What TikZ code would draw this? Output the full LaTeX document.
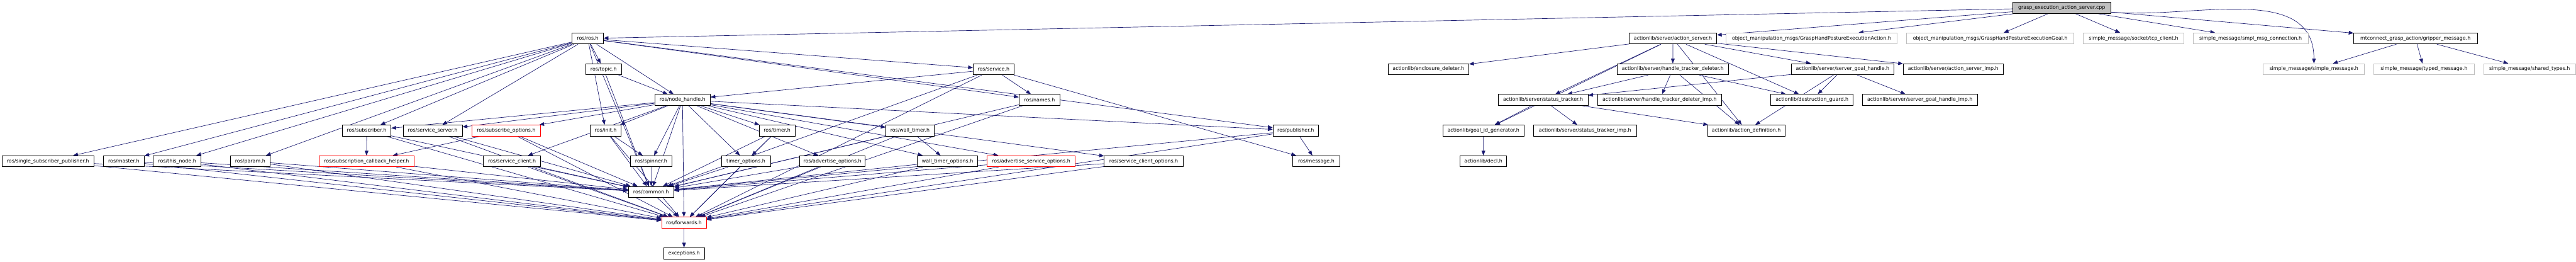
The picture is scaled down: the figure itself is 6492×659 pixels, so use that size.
\documentclass[tikz,border=0pt]{standalone}
\usepackage{fontspec}
\setmainfont{DejaVu Sans}
\usetikzlibrary{arrows.meta,backgrounds}
\definecolor{edgeblue}{RGB}{25,25,112}
\definecolor{docgray}{RGB}{191,191,191}
\begin{document}
\begin{tikzpicture}[x=0.75pt, y=-0.75pt,
  hdr/.style={rectangle, draw=black, line width=0.9pt, fill=white, minimum height=20.85pt, inner sep=0pt, font=\fontsize{9.4}{11}\selectfont},
  wd/.style={minimum width=#1*0.75pt},
  ext/.style={hdr, draw=docgray},
  bad/.style={hdr, draw=red},
  srcfile/.style={hdr, fill=docgray},
  arrow/.style={-{Triangle[length=9pt, width=7pt]}, line width=0.8pt, color=edgeblue}
]
  \useasboundingbox (0,0) rectangle (6492,659);

  % row 0
  \node[srcfile, wd=246.8] (root) at (5195.9,19.8) {grasp\_execution\_action\_server.cpp};

  % row 1
  \node[hdr, wd=78.9] (rosh) at (1481.25,96.8) {ros/ros.h};
  \node[hdr, wd=220.7] (asrv) at (4216.05,96.8) {actionlib/server/action\_server.h};
  \node[ext, wd=432.1] (gaction) at (4565.35,96.8) {object\_manipulation\_msgs/GraspHandPostureExecutionAction.h};
  \node[ext, wd=421.8] (ggoal) at (5015.9,96.8) {object\_manipulation\_msgs/GraspHandPostureExecutionGoal.h};
  \node[ext, wd=253.2] (tcp) at (5377,96.8) {simple\_message/socket/tcp\_client.h};
  \node[ext, wd=289.8] (conn) at (5671.9,96.8) {simple\_message/smpl\_msg\_connection.h};
  \node[hdr, wd=311.1] (grip) at (6087.35,96.8) {mtconnect\_grasp\_action/gripper\_message.h};

  % row 2
  \node[hdr, wd=89.6] (topic) at (1521.2,174.2) {ros/topic.h};
  \node[hdr, wd=102.9] (service) at (2503.95,174.2) {ros/service.h};
  \node[hdr, wd=203.9] (encl) at (3599.85,174.2) {actionlib/enclosure\_deleter.h};
  \node[hdr, wd=281.4] (htd) at (4215.7,174.2) {actionlib/server/handle\_tracker\_deleter.h};
  \node[hdr, wd=258.9] (sgh) at (4643.75,174.2) {actionlib/server/server\_goal\_handle.h};
  \node[hdr, wd=252.2] (asimp) at (4922.5,174.2) {actionlib/server/action\_server\_imp.h};
  \node[ext, wd=255] (smsg) at (5831.5,174.2) {simple\_message/simple\_message.h};
  \node[ext, wd=252.1] (typed) at (6108.95,174.2) {simple\_message/typed\_message.h};
  \node[ext, wd=232] (shared) at (6375,174.2) {simple\_message/shared\_types.h};

  % row 3
  \node[hdr, wd=140] (nh) at (1720,251.4) {ros/node\_handle.h};
  \node[hdr, wd=103.4] (names) at (2619.7,251.4) {ros/names.h};
  \node[hdr, wd=226.3] (st) at (3888.85,251.4) {actionlib/server/status\_tracker.h};
  \node[hdr, wd=313.3] (htdimp) at (4182.35,251.4) {actionlib/server/handle\_tracker\_deleter\_imp.h};
  \node[hdr, wd=207.1] (dguard) at (4566.45,251.4) {actionlib/destruction\_guard.h};
  \node[hdr, wd=291.1] (sghimp) at (4838.45,251.4) {actionlib/server/server\_goal\_handle\_imp.h};

  % row 4
  \node[hdr, wd=122.9] (sub) at (923.95,328.6) {ros/subscriber.h};
  \node[hdr, wd=149] (ssrv) at (1090.5,328.6) {ros/service\_server.h};
  \node[bad, wd=173.5] (subopt) at (1275.75,328.6) {ros/subscribe\_options.h};
  \node[hdr, wd=77.1] (init) at (1526.45,328.6) {ros/init.h};
  \node[hdr, wd=91.1] (timer) at (1958.45,328.6) {ros/timer.h};
  \node[hdr, wd=121.5] (wtimer) at (2293.25,328.6) {ros/wall\_timer.h};
  \node[hdr, wd=115] (pub) at (3265.4,328.6) {ros/publisher.h};
  \node[hdr, wd=205.7] (gidg) at (3738.55,328.6) {actionlib/goal\_id\_generator.h};
  \node[hdr, wd=259] (stimp) at (3994.5,328.6) {actionlib/server/status\_tracker\_imp.h};
  \node[hdr, wd=194.6] (adef) at (4400.9,328.6) {actionlib/action\_definition.h};

  % row 5
  \node[hdr, wd=232.4] (ssp) at (120.8,405.8) {ros/single\_subscriber\_publisher.h};
  \node[hdr, wd=102.5] (master) at (311.95,405.8) {ros/master.h};
  \node[hdr, wd=120] (thisnode) at (446.4,405.8) {ros/this\_node.h};
  \node[hdr, wd=100.3] (param) at (630.55,405.8) {ros/param.h};
  \node[bad, wd=238.9] (sch) at (923.75,405.8) {ros/subscription\_callback\_helper.h};
  \node[hdr, wd=144.3] (sclient) at (1290.35,405.8) {ros/service\_client.h};
  \node[hdr, wd=104.2] (spinner) at (1641.1,405.8) {ros/spinner.h};
  \node[hdr, wd=123.2] (topt) at (1879.8,405.8) {timer\_options.h};
  \node[hdr, wd=164.3] (advopt) at (2097.85,405.8) {ros/advertise\_options.h};
  \node[hdr, wd=152.2] (wtopt) at (2387.9,405.8) {wall\_timer\_options.h};
  \node[bad, wd=223] (asopt) at (2598.5,405.8) {ros/advertise\_service\_options.h};
  \node[hdr, wd=198.9] (scopt) at (2882.35,405.8) {ros/service\_client\_options.h};
  \node[hdr, wd=117.8] (msg) at (3317.1,405.8) {ros/message.h};
  \node[hdr, wd=117.5] (decl) at (3738.35,405.8) {actionlib/decl.h};

  % rows 6 to 8
  \node[hdr, wd=114.6] (common) at (1640.9,483) {ros/common.h};
  \node[bad, wd=112.5] (fwd) at (1723.75,560.2) {ros/forwards.h};
  \node[hdr, wd=102.9] (exc) at (1723.95,637.4) {exceptions.h};

  \begin{scope}[on background layer]
  \fill[white] (0,0) rectangle (6492,659);

  % source file
  \draw[arrow] (root) -- (rosh);
  \draw[arrow] (root) -- (asrv);
  \draw[arrow] (root) -- (gaction);
  \draw[arrow] (root) -- (ggoal);
  \draw[arrow] (root) -- (tcp);
  \draw[arrow] (root) -- (conn);
  \draw[arrow] (root) -- (grip);
  \draw[arrow] (root) to[out=-5, in=90] (smsg);

  % gripper message
  \draw[arrow] (grip) -- (smsg);
  \draw[arrow] (grip) -- (typed);
  \draw[arrow] (grip) -- (shared);

  % ros.h
  \draw[arrow] (rosh) -- (ssp);
  \draw[arrow] (rosh) -- (master);
  \draw[arrow] (rosh) -- (thisnode);
  \draw[arrow] (rosh) -- (param);
  \draw[arrow] (rosh) -- (sub);
  \draw[arrow] (rosh) -- (ssrv);
  \draw[arrow] (rosh) -- (topic);
  \draw[arrow] (rosh) -- (init);
  \draw[arrow] (rosh) -- (common);
  \draw[arrow] (rosh) -- (nh);
  \draw[arrow] (rosh) -- (service);
  \draw[arrow] (rosh) -- (names);
  \draw[arrow] (rosh) -- (pub);

  % topic, service, names
  \draw[arrow] (topic) -- (nh);
  \draw[arrow] (topic) -- (common);
  \draw[arrow] (service) -- (names);
  \draw[arrow] (service) -- (nh);
  \draw[arrow] (service) -- (common);
  \draw[arrow] (service) -- (msg);
  \draw[arrow] (service) -- (fwd);
  \draw[arrow] (names) -- (common);
  \draw[arrow] (names) -- (fwd);

  % node handle
  \draw[arrow] (nh) -- (sub);
  \draw[arrow] (nh) -- (ssrv);
  \draw[arrow] (nh) -- (subopt);
  \draw[arrow] (nh) -- (sclient);
  \draw[arrow] (nh) -- (init);
  \draw[arrow] (nh) -- (spinner);
  \draw[arrow] (nh) -- (timer);
  \draw[arrow] (nh) -- (topt);
  \draw[arrow] (nh) -- (advopt);
  \draw[arrow] (nh) -- (wtimer);
  \draw[arrow] (nh) -- (wtopt);
  \draw[arrow] (nh) -- (asopt);
  \draw[arrow] (nh) -- (scopt);
  \draw[arrow] (nh) -- (pub);
  \draw[arrow] (nh) -- (common);
  \draw[arrow] (nh) -- (fwd);

  % row 4 headers
  \draw[arrow] (sub) -- (sch);
  \draw[arrow] (sub) -- (common);
  \draw[arrow] (sub) -- (fwd);
  \draw[arrow] (ssrv) -- (common);
  \draw[arrow] (ssrv) -- (fwd);
  \draw[arrow] (subopt) -- (sch);
  \draw[arrow] (subopt) -- (common);
  \draw[arrow] (subopt) -- (fwd);
  \draw[arrow] (init) -- (spinner);
  \draw[arrow] (init) -- (common);
  \draw[arrow] (init) -- (fwd);
  \draw[arrow] (timer) -- (topt);
  \draw[arrow] (timer) -- (common);
  \draw[arrow] (timer) -- (fwd);
  \draw[arrow] (wtimer) -- (wtopt);
  \draw[arrow] (wtimer) -- (common);
  \draw[arrow] (wtimer) -- (fwd);
  \draw[arrow] (pub) -- (msg);
  \draw[arrow] (pub) -- (common);
  \draw[arrow] (pub) -- (fwd);

  % row 5 headers
  \draw[arrow] (ssp) -- (common);
  \draw[arrow] (ssp) -- (fwd);
  \draw[arrow] (master) -- (common);
  \draw[arrow] (master) -- (fwd);
  \draw[arrow] (thisnode) -- (common);
  \draw[arrow] (thisnode) -- (fwd);
  \draw[arrow] (param) -- (common);
  \draw[arrow] (param) -- (fwd);
  \draw[arrow] (sch) -- (common);
  \draw[arrow] (sch) -- (fwd);
  \draw[arrow] (sclient) -- (common);
  \draw[arrow] (sclient) -- (fwd);
  \draw[arrow] (spinner) -- (common);
  \draw[arrow] (topt) -- (common);
  \draw[arrow] (topt) -- (fwd);
  \draw[arrow] (advopt) -- (common);
  \draw[arrow] (advopt) -- (fwd);
  \draw[arrow] (wtopt) -- (common);
  \draw[arrow] (wtopt) -- (fwd);
  \draw[arrow] (asopt) -- (common);
  \draw[arrow] (asopt) -- (fwd);
  \draw[arrow] (scopt) -- (common);
  \draw[arrow] (scopt) -- (fwd);

  % common -> forwards -> exceptions
  \draw[arrow] (common) -- (fwd);
  \draw[arrow] (fwd) -- (exc);

  % actionlib
  \draw[arrow] (asrv) -- (encl);
  \draw[arrow] (asrv) -- (gidg);
  \draw[arrow] (asrv) -- (st);
  \draw[arrow] (asrv) -- (htd);
  \draw[arrow] (asrv) -- (sgh);
  \draw[arrow] (asrv) -- (dguard);
  \draw[arrow] (asrv) -- (adef);
  \draw[arrow] (asrv) -- (asimp);
  \draw[arrow] (htd) -- (htdimp);
  \draw[arrow] (htd) -- (st);
  \draw[arrow] (htd) -- (dguard);
  \draw[arrow] (htd) -- (adef);
  \draw[arrow] (st) -- (gidg);
  \draw[arrow] (st) -- (stimp);
  \draw[arrow] (st) -- (adef);
  \draw[arrow] (sgh) -- (st);
  \draw[arrow] (sgh) -- (dguard);
  \draw[arrow] (sgh) -- (sghimp);
  \draw[arrow] (sgh) -- (adef);
  \draw[arrow] (gidg) -- (decl);
  \end{scope}
\end{tikzpicture}
\end{document}
